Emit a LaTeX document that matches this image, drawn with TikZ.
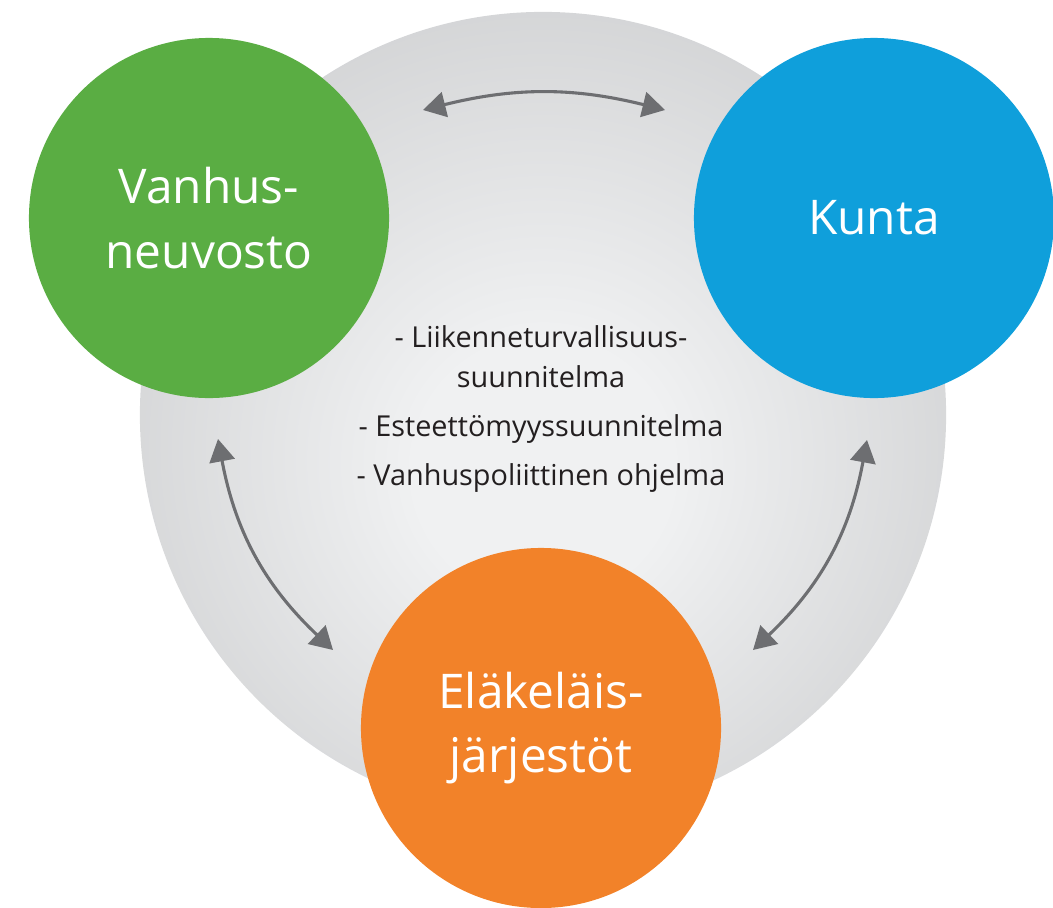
\documentclass[tikz,border=0pt]{standalone}
\usepackage{fontspec}
\setmainfont{Open Sans}
\usetikzlibrary{arrows.meta}
\definecolor{seniorGreen}{HTML}{5AAD43}
\definecolor{kuntaBlue}{HTML}{0F9FDB}
\definecolor{clubOrange}{HTML}{F28229}
\definecolor{ballIn}{HTML}{F0F1F2}
\definecolor{ballOut}{HTML}{B4B5B7}
\definecolor{arrowGrey}{HTML}{6D6E71}
\definecolor{textGrey}{HTML}{231F20}
\pgfdeclareradialshading{greyball}{\pgfpoint{0bp}{-4bp}}{color(0bp)=(ballIn); color(8bp)=(ballIn); color(50bp)=(ballOut)}
\tikzset{
  bubble/.style={circle, minimum size=9cm, inner sep=0pt, text=white, align=center, font=\fontsize{34}{46}\selectfont},
  link/.style={arrowGrey, line width=2.2pt, {Triangle[length=16pt,width=18pt]}-{Triangle[length=16pt,width=18pt]}}
}

\begin{document}
\begin{tikzpicture}[x=0.025cm, y=-0.025cm]
  \useasboundingbox (0,0) rectangle (1053,908);
  \coordinate (center) at (543,415);
  \shade[shading=greyball] (center) circle (10.075cm);

  % arrow ends
  \coordinate (topL) at (423,110);
  \coordinate (topR) at (665,110);
  \coordinate (leftT) at (218,439);
  \coordinate (leftB) at (333,650);
  \coordinate (rightT) at (867,440);
  \coordinate (rightB) at (753,650);
  \draw[link] (topL) to[bend left=14] (topR);
  \draw[link] (leftT) to[bend right=18] (leftB);
  \draw[link] (rightT) to[bend left=18] (rightB);

  \node[text=textGrey, align=center, font=\fontsize{20.5}{28.5}\selectfont] (plans) at (541,409)
    {- Liikenneturvallisuus-\\suunnitelma\\[6.5pt]- Esteettömyyssuunnitelma\\[6.5pt]- Vanhuspoliittinen ohjelma};

  \node[bubble, fill=seniorGreen] (council) at (209,218) {Vanhus-\\neuvosto};
  \node[bubble, fill=kuntaBlue] (kunta) at (874,218) {Kunta};
  \node[bubble, fill=clubOrange] (clubs) at (541,728) {Eläkeläis-\\järjestöt};
\end{tikzpicture}
\end{document}
